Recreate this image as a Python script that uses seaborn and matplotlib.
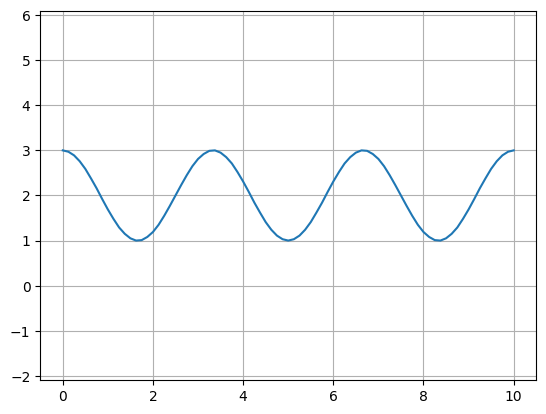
import matplotlib

matplotlib.use("Agg")
import matplotlib.pyplot as plt
import seaborn as sns

# valores (passo de 0.125 em x)
tempo = [i * 0.125 for i in range(81)]
sinal = [
    3.00, 2.97, 2.89, 2.76, 2.59, 2.38, 2.16, 1.92, 1.69, 1.48,
    1.29, 1.15, 1.05, 1.00, 1.01, 1.08, 1.19, 1.35, 1.55, 1.77,
    2.00, 2.23, 2.45, 2.65, 2.81, 2.92, 2.99, 3.00, 2.95, 2.85,
    2.71, 2.52, 2.31, 2.08, 1.84, 1.62, 1.41, 1.24, 1.11, 1.03,
    1.00,
    1.03, 1.11, 1.24, 1.41, 1.62, 1.84, 2.08, 2.31, 2.52, 2.71,
    2.85, 2.95, 3.00, 2.99, 2.92, 2.81, 2.65, 2.45, 2.23, 2.00,
    1.77, 1.55, 1.35, 1.19, 1.08, 1.01, 1.00, 1.05, 1.15, 1.29,
    1.48, 1.69, 1.92, 2.16, 2.38, 2.59, 2.76, 2.89, 2.97, 3.00,
]

fig, ax = plt.subplots(figsize=(6.4, 4.8), dpi=100)

sns.lineplot(x=tempo, y=sinal, color="C0", linewidth=1.5, ax=ax)

ax.set_aspect("equal", adjustable="datalim")
ax.grid(True)

fig.savefig("out.png", bbox_inches="tight")
